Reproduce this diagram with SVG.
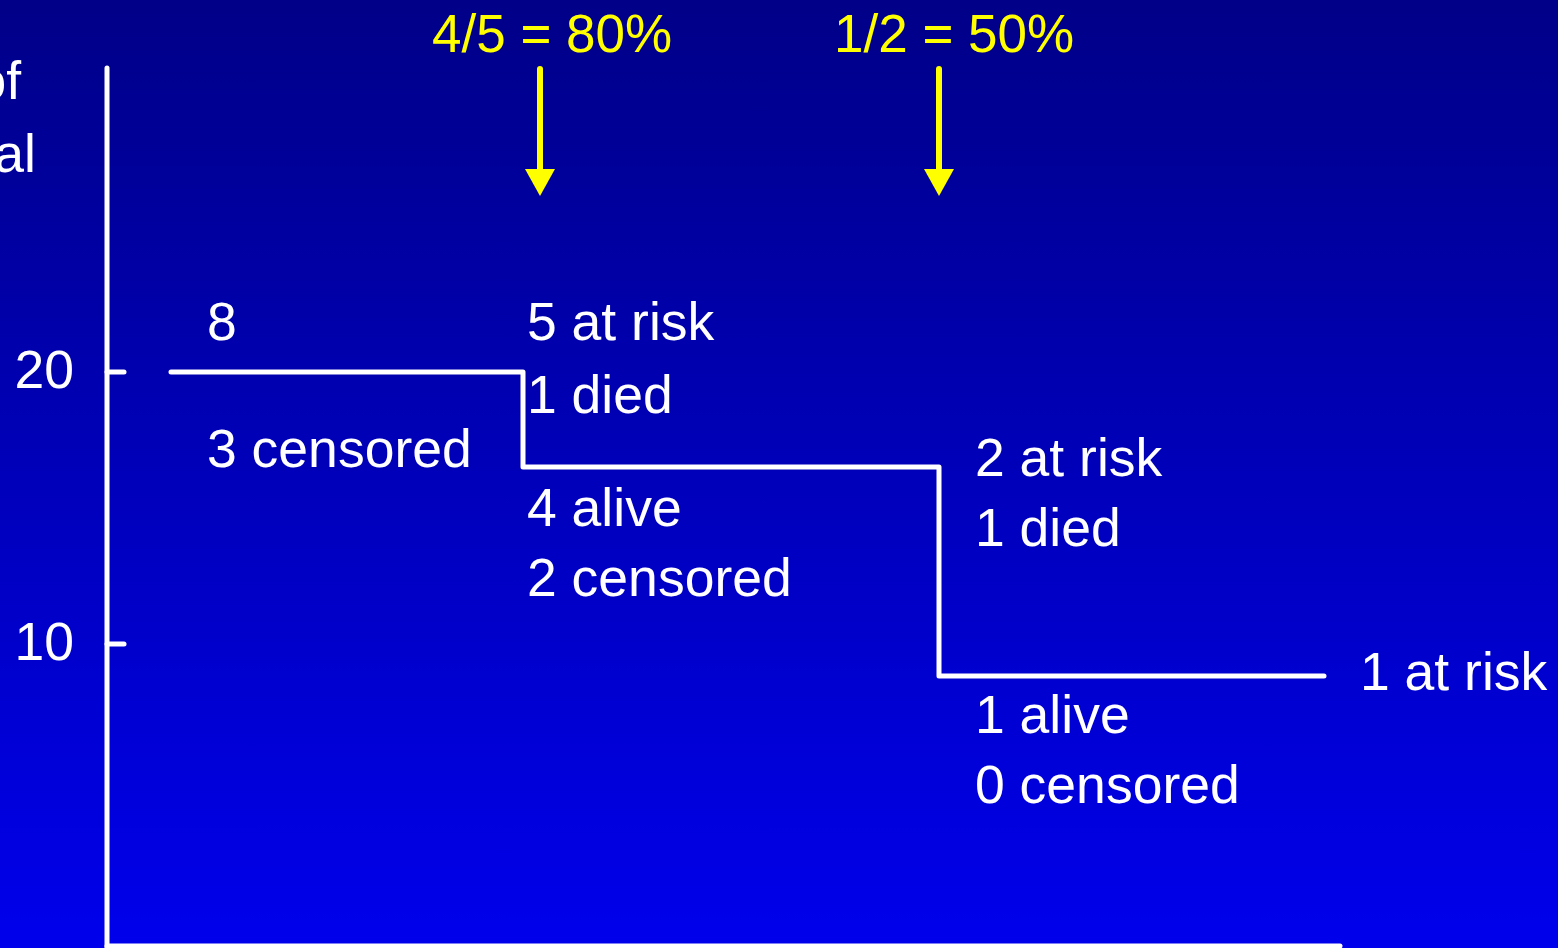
<svg xmlns="http://www.w3.org/2000/svg" width="1558" height="948" viewBox="0 0 1558 948">
  <defs>
    <linearGradient id="bg" x1="0" y1="0" x2="0" y2="1">
      <stop offset="0" stop-color="#000088"/>
      <stop offset="1" stop-color="#0000EC"/>
    </linearGradient>
  </defs>
  <style>
    .t { font-family: "Liberation Sans", Arial, sans-serif; font-size: 53.5px; fill: #FFFFFF; }
    .y { font-family: "Liberation Sans", Arial, sans-serif; font-size: 53px; fill: #FFFF00; }
    .ax { stroke: #FFFFFF; stroke-width: 5; fill: none; stroke-linecap: round; }
    .step { stroke: #FFFFFF; stroke-width: 5; fill: none; stroke-linecap: round; stroke-linejoin: round; }
    .arr { stroke: #FFFF00; stroke-width: 6; fill: none; stroke-linecap: round; }
    .head { fill: #FFFF00; }
  </style>
  <rect x="0" y="0" width="1558" height="948" fill="url(#bg)"/>

  <g id="axes">
    <line class="ax" x1="107" y1="68" x2="107" y2="952"/>
    <line class="ax" x1="107" y1="946" x2="1340" y2="946"/>
    <line class="ax" x1="107" y1="372" x2="124" y2="372"/>
    <line class="ax" x1="107" y1="644" x2="124" y2="644"/>
    <text class="t" x="74" y="388" text-anchor="end">20</text>
    <text class="t" x="74" y="660" text-anchor="end">10</text>
    <text class="t" x="21" y="99" text-anchor="end">of</text>
    <text class="t" x="36" y="172" text-anchor="end">al</text>
  </g>

  <g id="connectors">
    <path class="step" d="M171,372 H523 V467 H939 V676 H1324"/>
    <g id="arrow1">
      <line class="arr" x1="540" y1="69" x2="540" y2="172"/>
      <path class="head" d="M525,169 L555,169 L540,196 Z"/>
    </g>
    <g id="arrow2">
      <line class="arr" x1="939" y1="69" x2="939" y2="172"/>
      <path class="head" d="M924,169 L954,169 L939,196 Z"/>
    </g>
  </g>

  <g id="label-80">
    <text class="y" x="432" y="52">4/5 = 80%</text>
  </g>
  <g id="label-50">
    <text class="y" x="834" y="52">1/2 = 50%</text>
  </g>

  <g id="node-start">
    <text class="t" x="207" y="340">8</text>
    <text class="t" x="207" y="467">3 censored</text>
  </g>

  <g id="node-step1">
    <text class="t" x="527" y="340">5 at risk</text>
    <text class="t" x="527" y="413">1 died</text>
    <text class="t" x="527" y="526">4 alive</text>
    <text class="t" x="527" y="596">2 censored</text>
  </g>

  <g id="node-step2">
    <text class="t" x="975" y="476">2 at risk</text>
    <text class="t" x="975" y="546">1 died</text>
    <text class="t" x="975" y="733">1 alive</text>
    <text class="t" x="975" y="803">0 censored</text>
  </g>

  <g id="node-end">
    <text class="t" x="1360" y="690">1 at risk</text>
  </g>
</svg>
